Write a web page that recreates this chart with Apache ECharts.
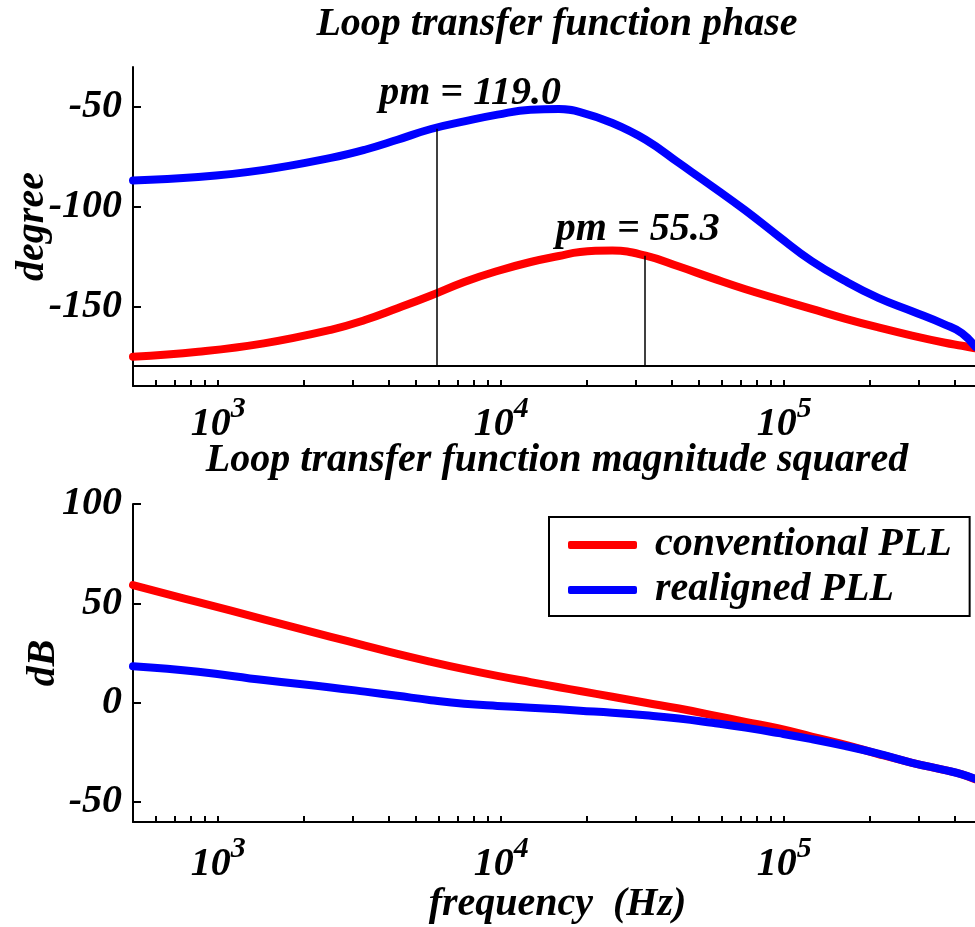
<!DOCTYPE html>
<html><head><meta charset="utf-8">
<script src="https://cdn.jsdelivr.net/npm/echarts@6/dist/echarts.min.js"></script>
<style>html,body{margin:0;padding:0;background:#fff}#c{width:975px;height:927px}</style>
</head><body><div id="c"></div>
<script>
// ---------- data ----------
const freqHz = [500, 850, 1450, 2500, 3300, 4300, 5650, 7400, 9700, 12700, 16000, 19000, 24700, 32400, 42500, 55700, 73000, 95700, 125000, 165000, 215000, 283000, 370000, 425000, 473000];
const phaseConventional = [-175.3, -172.8, -168.6, -161.8, -156.9, -151.0, -144.6, -137.8, -132.3, -127.8, -124.8, -122.8, -122.1, -124.6, -130.1, -135.9, -141.5, -146.5, -151.3, -156.3, -160.6, -164.7, -168.3, -169.8, -171.1];
const phaseRealigned = [-86.9, -85.2, -81.6, -75.6, -71.5, -66.5, -61.1, -57.3, -53.9, -51.4, -51.1, -52.6, -58.1, -66.5, -78.2, -89.9, -102.0, -115.0, -127.3, -137.5, -145.8, -152.5, -159.2, -163.5, -170.3];
const magConventional = [59.2, 50.6, 42.0, 33.2, 28.8, 24.6, 20.6, 16.9, 13.5, 10.4, 7.8, 5.9, 3.0, 0.0, -2.9, -6.2, -9.6, -12.9, -17.0, -21.2, -25.8, -30.2, -33.9, -36.0, -38.5];
const magRealigned = [18.4, 15.6, 11.4, 7.7, 5.6, 3.5, 1.3, -0.5, -1.6, -2.5, -3.3, -4.0, -5.0, -6.3, -7.9, -10.1, -12.5, -15.3, -18.3, -21.8, -25.6, -30.2, -33.9, -36.0, -38.3];

const seriesNames = ['conventional PLL', 'realigned PLL'];
const pmFreqHz = [5935, 32150];          // gain crossover frequencies
const pmPhase = [-61.0, -124.7];         // phase at crossover
const pmText = ['pm = 119.0', 'pm = 55.3'];
const phaseRef = -180;

const decadeTickHz = [1000, 10000, 100000];
const minorTickHz = [500, 600, 700, 800, 900, 1000, 2000, 3000, 4000, 5000, 6000, 7000, 8000, 9000, 10000,
  20000, 30000, 40000, 50000, 60000, 70000, 80000, 90000, 100000, 200000, 300000, 400000, 500000];
const phaseTicks = [-150, -100, -50];
const magTicks = [-50, 0, 50, 100];
const titles = ['Loop transfer function phase', 'Loop transfer function magnitude squared'];
const xName = 'frequency  (Hz)';
const yNames = ['degree', 'dB'];

// ---------- chart ----------
const lg = v => Math.log10(v);
const FONT = '"Liberation Serif", "Times New Roman", serif';
const font = (size) => ({ fontFamily: FONT, fontSize: size, fontWeight: 'bold', fontStyle: 'italic', color: '#000' });
const RED = '#ff0000', BLUE = '#0000ff';

function makeX(gridIndex, margin, name, nameGap) {
  return {
    type: 'value', gridIndex, min: lg(500), max: lg(500000), position: 'bottom',
    axisLine: { show: true, onZero: false, lineStyle: { color: '#000', width: 2 } },
    axisTick: { show: true, inside: true, length: 6, customValues: minorTickHz.map(lg), lineStyle: { color: '#000', width: 2 } },
    axisLabel: {
      show: true, margin, customValues: decadeTickHz.map(lg), ...font(40),
      formatter: v => '{b|10}{s|' + Math.round(v) + '}',
      rich: { b: { ...font(40), padding: [11, 0, 0, 0] }, s: { ...font(30), verticalAlign: 'top' } }
    },
    splitLine: { show: false },
    name: name || '', nameLocation: 'middle', nameGap: nameGap || 0, nameMoveOverlap: false, nameTextStyle: font(40)
  };
}
function makeY(gridIndex, min, max, ticks, name, nameGap) {
  return {
    type: 'value', gridIndex, min, max, position: 'left',
    axisLine: { show: true, onZero: false, lineStyle: { color: '#000', width: 2 } },
    axisTick: { show: true, inside: true, length: 8, customValues: ticks, lineStyle: { color: '#000', width: 2 } },
    axisLabel: { show: true, margin: 11, customValues: ticks, ...font(40) },
    splitLine: { show: false },
    name, nameLocation: 'middle', nameRotate: 90, nameGap, nameMoveOverlap: false, nameTextStyle: font(40)
  };
}
function lineSeries(name, xi, vals, color, extra) {
  return Object.assign({
    name, type: 'line', xAxisIndex: xi, yAxisIndex: xi,
    data: freqHz.map((f, i) => [lg(f), vals[i]]),
    showSymbol: false, symbol: 'none', smooth: 0.45,
    lineStyle: { color, width: 8, cap: 'round', join: 'round' }, itemStyle: { color },
    emphasis: { disabled: true }, silent: true
  }, extra || {});
}

const chart = echarts.init(document.getElementById('c'), null, { renderer: 'canvas' });
chart.setOption({
  animation: false,
  backgroundColor: '#fff',
  grid: [
    { left: 133, right: -7, top: 67, height: 319, outerBoundsMode: 'none', containLabel: false },
    { left: 133, right: -7, top: 504, height: 318, outerBoundsMode: 'none', containLabel: false }
  ],
  xAxis: [makeX(0, 8), makeX(1, 12, xName, 63)],
  yAxis: [makeY(0, -190, -30, phaseTicks, yNames[0], 80), makeY(1, -60, 100, magTicks, yNames[1], 69)],
  legend: {
    data: seriesNames, orient: 'vertical', left: 549, top: 517,
    padding: [8, 18, 6, 19], itemGap: 5, itemWidth: 69, itemHeight: 8, icon: 'roundRect',
    borderColor: '#000', borderWidth: 2, borderRadius: 0, backgroundColor: '#fff',
    textStyle: { ...font(40), padding: [0, 0, 0, 13] }, selectedMode: false
  },
  graphic: [
    { type: 'text', x: 557, y: 25, silent: true, style: { text: titles[0], font: 'italic bold 40px "Liberation Serif"', fill: '#000', align: 'center', verticalAlign: 'middle', textAlign: 'center', textVerticalAlign: 'middle' } },
    { type: 'text', x: 557, y: 461, silent: true, style: { text: titles[1], font: 'italic bold 40px "Liberation Serif"', fill: '#000', align: 'center', verticalAlign: 'middle', textAlign: 'center', textVerticalAlign: 'middle' } }
  ],
  series: [
    lineSeries(seriesNames[0], 0, phaseConventional, RED, {
      markLine: {
        silent: true, symbol: ['none', 'none'], label: { show: false },
        lineStyle: { color: '#000', width: 2, type: 'solid' },
        data: [{ yAxis: phaseRef }]
      }
    }),
    lineSeries(seriesNames[1], 0, phaseRealigned, BLUE, {
      markLine: {
        silent: true, symbol: ['none', 'none'], label: { show: false },
        lineStyle: { color: '#000', width: 1.5, type: 'solid' },
        data: pmFreqHz.map((f, i) => [{ coord: [lg(f), pmPhase[i]] }, { coord: [lg(f), phaseRef] }])
      },
      markPoint: {
        silent: true, symbol: 'circle', symbolSize: 0,
        label: { show: true, position: 'inside', ...font(40) },
        data: pmFreqHz.map((f, i) => ({
          coord: [lg(f), pmPhase[i]],
          label: { formatter: pmText[i], offset: i === 0 ? [33, -35] : [-7, -26] }
        }))
      }
    }),
    lineSeries(seriesNames[0], 1, magConventional, RED),
    lineSeries(seriesNames[1], 1, magRealigned, BLUE)
  ]
});
</script>
</body></html>
